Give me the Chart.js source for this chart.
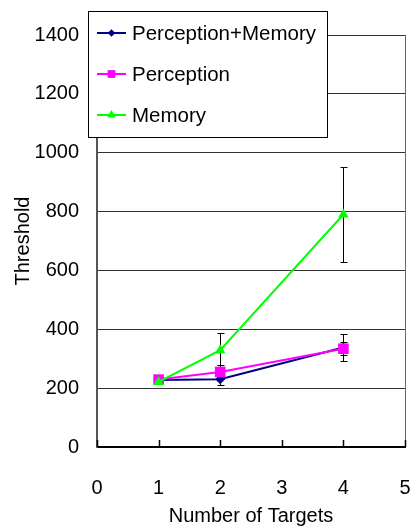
<!DOCTYPE html>
<html>
<head>
<meta charset="utf-8">
<script src="https://cdn.jsdelivr.net/npm/chart.js@4/dist/chart.umd.min.js"></script>
<style>
  html, body { margin: 0; padding: 0; background: #fff; }
  canvas { display: block; }
</style>
</head>
<body>
<canvas id="chart" width="413" height="527"></canvas>
<script>
// data
const targets = [1, 2, 4];
const seriesNames = ['Perception+Memory', 'Perception', 'Memory'];
const percMem = [228, 230, 338];
const perception = [229, 255, 334];
const memory = [221, 329, 790];
const percMemErr = [8, 20, 45];
const perceptionErr = [8, 22, 22];
const memoryErr = [8, 57, 162];
const xTicks = [0, 1, 2, 3, 4, 5];
const yTicks = [0, 200, 400, 600, 800, 1000, 1200, 1400];

const FONT = 'Arial, "Liberation Sans", sans-serif';
const colors = ['#000080', '#ff00ff', '#00ff00'];
const markers = ['rectRot', 'rect', 'triangle'];
const radii = [5, 7.5, 6];
const legendRadii = [3.8, 5.5, 5];

function pts(vals) { return targets.map((x, i) => ({ x, y: vals[i] })); }

const errs = [percMemErr, perceptionErr, memoryErr];

// error bars, drawn under the lines
const errorBars = {
  id: 'errorBars',
  beforeDatasetsDraw(chart) {
    const { ctx, scales: { x, y } } = chart;
    ctx.save();
    ctx.strokeStyle = '#000';
    ctx.lineWidth = 1;
    chart.data.datasets.forEach((ds, di) => {
      ds.data.forEach((p, i) => {
        const e = errs[di][i];
        const px = Math.round(x.getPixelForValue(p.x)) + 0.5;
        const top = Math.round(y.getPixelForValue(p.y + e)) + 0.5;
        const bot = Math.round(y.getPixelForValue(p.y - e)) + 0.5;
        ctx.beginPath();
        ctx.moveTo(px, top); ctx.lineTo(px, bot);
        ctx.moveTo(px - 3, top); ctx.lineTo(px + 4, top);
        ctx.moveTo(px - 3, bot); ctx.lineTo(px + 4, bot);
        ctx.stroke();
      });
    });
    ctx.restore();
  }
};

// frame: right border and inside tick marks on x axis
const frame = {
  id: 'frame',
  beforeDatasetsDraw(chart) {
    const { ctx, chartArea: a, scales: { x } } = chart;
    ctx.save();
    ctx.strokeStyle = '#666';
    ctx.lineWidth = 1;
    ctx.beginPath();
    ctx.moveTo(Math.round(a.right) + 0.5, a.top);
    ctx.lineTo(Math.round(a.right) + 0.5, a.bottom);
    ctx.stroke();
    ctx.strokeStyle = '#000';
    ctx.lineWidth = 1.5;
    ctx.beginPath();
    xTicks.forEach(v => {
      const px = Math.round(x.getPixelForValue(v)) + 0.5;
      ctx.moveTo(px, a.bottom);
      ctx.lineTo(px, a.bottom - 7);
    });
    ctx.stroke();
    ctx.restore();
  }
};

// boxed legend sitting over the top-left of the plot
const boxLegend = {
  id: 'boxLegend',
  afterDraw(chart) {
    const { ctx } = chart;
    const bx = 88.5, by = 11.5, bw = 239, bh = 126;
    ctx.save();
    ctx.fillStyle = '#fff';
    ctx.fillRect(bx, by, bw, bh);
    ctx.strokeStyle = '#000';
    ctx.lineWidth = 1;
    ctx.strokeRect(bx, by, bw, bh);
    ctx.font = '20.5px ' + FONT;
    ctx.textBaseline = 'middle';
    seriesNames.forEach((name, i) => {
      const cy = 33 + i * 41;
      ctx.strokeStyle = colors[i];
      ctx.lineWidth = 2;
      ctx.beginPath();
      ctx.moveTo(97, cy); ctx.lineTo(126, cy);
      ctx.stroke();
      ctx.fillStyle = colors[i];
      Chart.helpers.drawPoint(ctx, { pointStyle: markers[i], radius: legendRadii[i], borderWidth: 0 }, 111.5, cy);
      ctx.fillStyle = '#000';
      ctx.fillText(name, 132, cy + 1);
    });
    ctx.restore();
  }
};

const datasets = [percMem, perception, memory].map((vals, i) => ({
  label: seriesNames[i],
  data: pts(vals),
  borderColor: colors[i],
  backgroundColor: colors[i],
  borderWidth: 2,
  pointStyle: markers[i],
  pointRadius: radii[i],
  pointBorderWidth: 0,
  tension: 0,
  order: 3 - i
}));

new Chart(document.getElementById('chart'), {
  type: 'line',
  data: { datasets },
  plugins: [errorBars, frame, boxLegend],
  options: {
    responsive: false,
    animation: false,
    layout: { padding: { left: 0, top: 35, right: 8, bottom: 0 } },
    plugins: { legend: { display: false }, tooltip: { enabled: false } },
    scales: {
      x: {
        type: 'linear', min: 0, max: 5,
        afterBuildTicks: s => { s.ticks = xTicks.map(v => ({ value: v })); },
        afterFit: s => { s.height = 80; s.paddingLeft = 0; s.paddingRight = 0; },
        grid: { display: false, drawTicks: false },
        border: { color: '#000', width: 2 },
        ticks: { color: '#000', font: { family: FONT, size: 20 }, padding: 29 },
        title: { display: true, text: 'Number of Targets', color: '#000', font: { family: FONT, size: 20 }, padding: { top: 0, bottom: -1 } }
      },
      y: {
        min: 0, max: 1400,
        afterBuildTicks: s => { s.ticks = yTicks.map(v => ({ value: v })); },
        afterFit: s => { s.width = 97; s.paddingTop = 0; s.paddingBottom = 0; },
        grid: { color: '#333', lineWidth: 1, drawTicks: false },
        border: { color: '#555', width: 2 },
        ticks: { color: '#000', font: { family: FONT, size: 20 }, padding: 18, callback: v => String(v) },
        title: { display: true, text: 'Threshold', color: '#000', font: { family: FONT, size: 20 }, padding: { top: 11, bottom: 0 } }
      }
    }
  }
});
</script>
</body>
</html>
